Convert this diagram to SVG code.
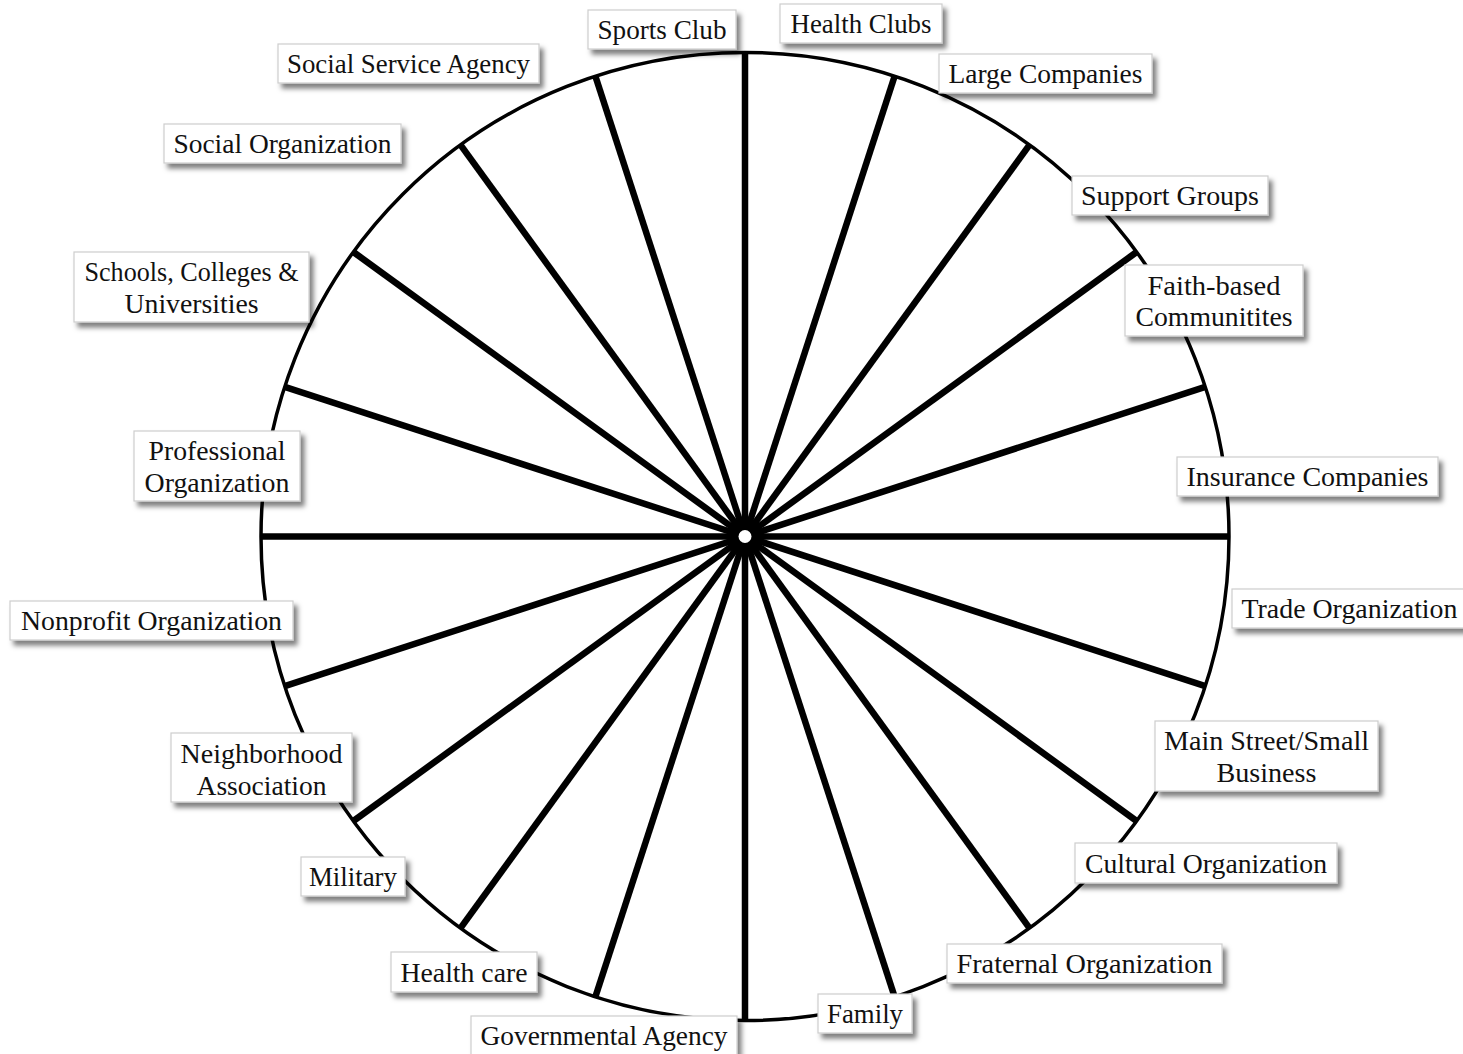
<svg xmlns="http://www.w3.org/2000/svg" width="1463" height="1054" viewBox="0 0 1463 1054">
<defs>
<style>
.rim{fill:none;stroke:#000;stroke-width:3.5}
.spoke{stroke:#000;stroke-width:6.5;stroke-linecap:butt}
.box{fill:#fff;stroke:#cdcdcd;stroke-width:1.2;filter:url(#sh)}
.lbl{font-family:"Liberation Serif","Times New Roman",serif;font-size:27px;fill:#111;text-anchor:middle}
</style>
<filter id="sh" x="-10%" y="-20%" width="125%" height="160%">
<feDropShadow dx="4" dy="5" stdDeviation="2.5" flood-color="#000" flood-opacity="0.5"/>
</filter>
</defs>
<rect width="1463" height="1054" fill="#fff"/>
<g id="wheel">
<circle class="rim" cx="745" cy="536.5" r="484"/>
</g>
<g id="connectors">
<line class="spoke" x1="745" y1="52.5" x2="745" y2="1020.5"/>
<line class="spoke" x1="894.6" y1="76.2" x2="595.4" y2="996.8"/>
<line class="spoke" x1="1029.5" y1="144.9" x2="460.5" y2="928.1"/>
<line class="spoke" x1="1136.6" y1="252.0" x2="353.4" y2="821.0"/>
<line class="spoke" x1="1205.3" y1="386.9" x2="284.7" y2="686.1"/>
<line class="spoke" x1="1229" y1="536.5" x2="261" y2="536.5"/>
<line class="spoke" x1="1205.3" y1="686.1" x2="284.7" y2="386.9"/>
<line class="spoke" x1="1136.6" y1="821.0" x2="353.4" y2="252.0"/>
<line class="spoke" x1="1029.5" y1="928.1" x2="460.5" y2="144.9"/>
<line class="spoke" x1="894.6" y1="996.8" x2="595.4" y2="76.2"/>
<circle cx="745" cy="536.5" r="13" fill="#000"/>
<circle cx="745" cy="536.5" r="6.5" fill="#fff"/>
</g>
<g id="sports-club"><rect class="box" x="588" y="10" width="148" height="39"/><text class="lbl" x="662" y="39" textLength="129" lengthAdjust="spacingAndGlyphs">Sports Club</text></g>
<g id="health-clubs"><rect class="box" x="780" y="4" width="162" height="39"/><text class="lbl" x="861" y="33" textLength="141" lengthAdjust="spacingAndGlyphs">Health Clubs</text></g>
<g id="large-companies"><rect class="box" x="939" y="54" width="213" height="39"/><text class="lbl" x="1045.5" y="83" textLength="194" lengthAdjust="spacingAndGlyphs">Large Companies</text></g>
<g id="support-groups"><rect class="box" x="1072" y="176" width="196" height="39"/><text class="lbl" x="1170" y="205" textLength="178" lengthAdjust="spacingAndGlyphs">Support Groups</text></g>
<g id="faith-based"><rect class="box" x="1125" y="265" width="178" height="71"/><text class="lbl" x="1214" y="295" textLength="133" lengthAdjust="spacingAndGlyphs">Faith-based</text><text class="lbl" x="1214" y="326" textLength="157" lengthAdjust="spacingAndGlyphs">Communitites</text></g>
<g id="insurance-companies"><rect class="box" x="1177" y="457" width="261" height="39"/><text class="lbl" x="1307.5" y="486" textLength="242" lengthAdjust="spacingAndGlyphs">Insurance Companies</text></g>
<g id="trade-organization"><rect class="box" x="1232" y="589" width="235" height="39"/><text class="lbl" x="1349.5" y="618" textLength="216" lengthAdjust="spacingAndGlyphs">Trade Organization</text></g>
<g id="main-street"><rect class="box" x="1155" y="721" width="223" height="70"/><text class="lbl" x="1266.5" y="750" textLength="205" lengthAdjust="spacingAndGlyphs">Main Street/Small</text><text class="lbl" x="1266.5" y="782" textLength="100" lengthAdjust="spacingAndGlyphs">Business</text></g>
<g id="cultural-organization"><rect class="box" x="1075" y="843" width="262" height="40"/><text class="lbl" x="1206" y="873" textLength="242" lengthAdjust="spacingAndGlyphs">Cultural Organization</text></g>
<g id="fraternal-organization"><rect class="box" x="947" y="944" width="275" height="39"/><text class="lbl" x="1084.5" y="973" textLength="256" lengthAdjust="spacingAndGlyphs">Fraternal Organization</text></g>
<g id="family"><rect class="box" x="818" y="994" width="94" height="39"/><text class="lbl" x="865" y="1023" textLength="76" lengthAdjust="spacingAndGlyphs">Family</text></g>
<g id="governmental-agency"><rect class="box" x="471" y="1016" width="266" height="40"/><text class="lbl" x="604" y="1045" textLength="247" lengthAdjust="spacingAndGlyphs">Governmental Agency</text></g>
<g id="health-care"><rect class="box" x="391" y="952" width="146" height="40"/><text class="lbl" x="464" y="982" textLength="127" lengthAdjust="spacingAndGlyphs">Health care</text></g>
<g id="military"><rect class="box" x="301" y="857" width="104" height="39"/><text class="lbl" x="353" y="886" textLength="88" lengthAdjust="spacingAndGlyphs">Military</text></g>
<g id="neighborhood-association"><rect class="box" x="171" y="733" width="181" height="69"/><text class="lbl" x="261.5" y="763" textLength="162" lengthAdjust="spacingAndGlyphs">Neighborhood</text><text class="lbl" x="261.5" y="795" textLength="130" lengthAdjust="spacingAndGlyphs">Association</text></g>
<g id="nonprofit-organization"><rect class="box" x="10" y="601" width="283" height="39"/><text class="lbl" x="151.5" y="630" textLength="261" lengthAdjust="spacingAndGlyphs">Nonprofit Organization</text></g>
<g id="professional-organization"><rect class="box" x="134" y="431" width="166" height="70"/><text class="lbl" x="217" y="460" textLength="137" lengthAdjust="spacingAndGlyphs">Professional</text><text class="lbl" x="217" y="492" textLength="145" lengthAdjust="spacingAndGlyphs">Organization</text></g>
<g id="schools"><rect class="box" x="74" y="252" width="235" height="70"/><text class="lbl" x="191.5" y="281" textLength="214" lengthAdjust="spacingAndGlyphs">Schools, Colleges &amp;</text><text class="lbl" x="191.5" y="313" textLength="134" lengthAdjust="spacingAndGlyphs">Universities</text></g>
<g id="social-organization"><rect class="box" x="164" y="124" width="237" height="39"/><text class="lbl" x="282.5" y="153" textLength="218" lengthAdjust="spacingAndGlyphs">Social Organization</text></g>
<g id="social-service-agency"><rect class="box" x="278" y="44" width="261" height="39"/><text class="lbl" x="408.5" y="73" textLength="243" lengthAdjust="spacingAndGlyphs">Social Service Agency</text></g>
</svg>
